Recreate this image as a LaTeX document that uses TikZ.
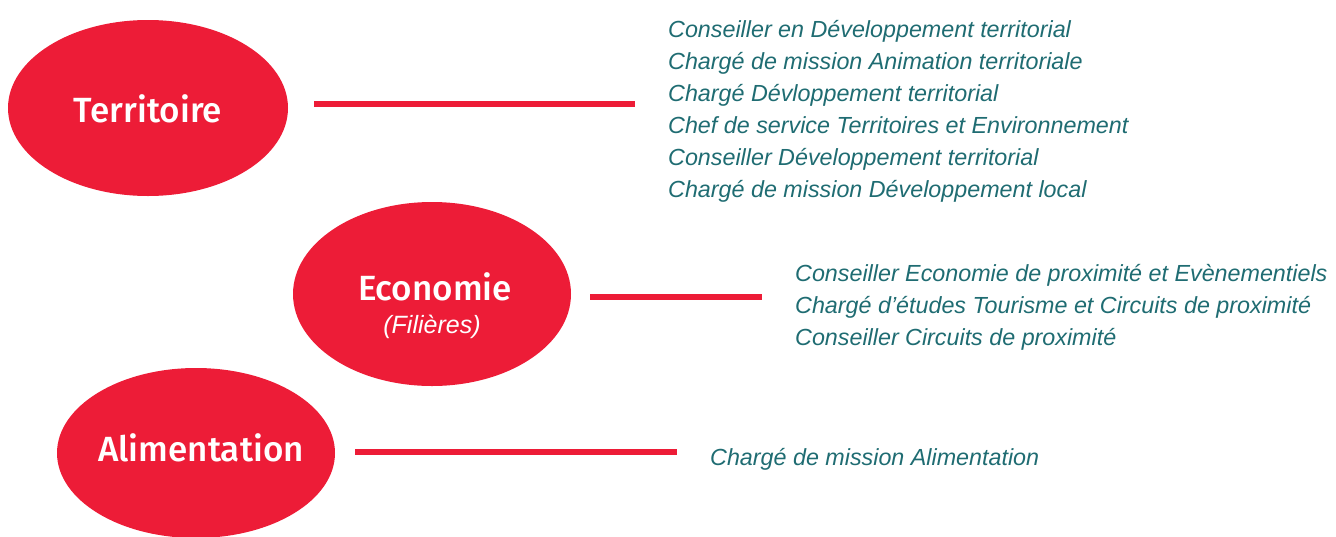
\documentclass[tikz,border=0pt]{standalone}
\usepackage{fontspec}
\setmainfont{Liberation Sans}
\newfontfamily\titlefont{Fira Sans Medium}
\usetikzlibrary{shapes.geometric}
\definecolor{brandred}{RGB}{237,28,55}
\definecolor{jobteal}{RGB}{31,108,114}
\begin{document}
\begin{tikzpicture}[x=1pt,y=-1pt,
  theme/.style={ellipse,fill=brandred,draw=none,inner sep=0pt,
    minimum width=280pt,minimum height=176pt},
  title/.style={anchor=base,text=white,inner sep=0pt,
    font=\titlefont\fontsize{35}{40}\selectfont},
  subtitle/.style={anchor=base,text=white,inner sep=0pt,
    font=\itshape\fontsize{25}{28}\selectfont},
  job/.style={anchor=base west,text=jobteal,inner sep=0pt,
    font=\itshape\fontsize{23.3}{28}\selectfont},
  link/.style={draw=brandred,line width=6pt}]
\useasboundingbox (0,0) rectangle (1336,536);

% themes
\node[theme] (terr) at (148,108) {};
\node[theme,minimum width=278pt,minimum height=184pt] (eco) at (432,294) {};
\node[theme,minimum width=278pt,minimum height=170pt] (alim) at (196,453) {};

\node[title] (terr-t) at (148,122) {Territoire};
\node[title] (eco-t) at (435,300) {Economie};
\node[subtitle] (eco-s) at (432,333) {(Filières)};
\node[title] (alim-t) at (201,461) {Alimentation};

% job titles
\foreach \txt [count=\i] in {
  {Conseiller en Développement territorial},
  {Chargé de mission Animation territoriale},
  {Chargé Dévloppement territorial},
  {Chef de service Territoires et Environnement},
  {Conseiller Développement territorial},
  {Chargé de mission Développement local}}
  \node[job] (terr-job-\i) at (668,{37+32*(\i-1)}) {\txt};

\foreach \txt [count=\i] in {
  {Conseiller Economie de proximité et Evènementiels},
  {Chargé d’études Tourisme et Circuits de proximité},
  {Conseiller Circuits de proximité}}
  \node[job] (eco-job-\i) at (795,{281+32*(\i-1)}) {\txt};

\node[job] (alim-job-1) at (710,465) {Chargé de mission Alimentation};

% connectors
\coordinate (terr-a) at (314,104);
\coordinate (terr-b) at (635,104);
\coordinate (eco-a) at (590,297);
\coordinate (eco-b) at (762,297);
\coordinate (alim-a) at (355,452);
\coordinate (alim-b) at (677,452);
\draw[link] (terr-a) -- (terr-b);
\draw[link] (eco-a) -- (eco-b);
\draw[link] (alim-a) -- (alim-b);
\end{tikzpicture}
\end{document}
